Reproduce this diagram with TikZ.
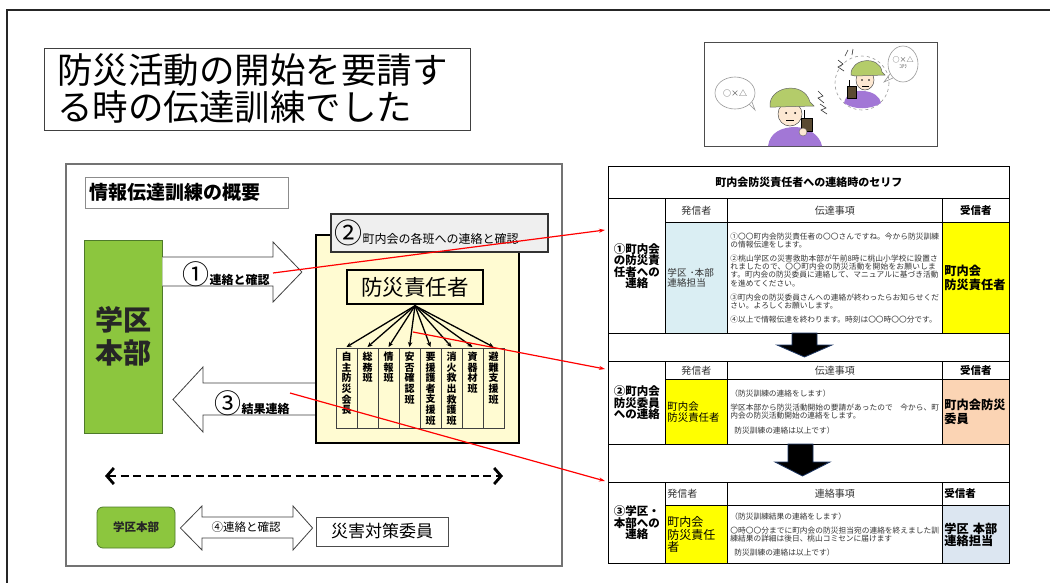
\documentclass[tikz,border=0pt]{standalone}
\usepackage{fontspec}
\usepackage{xcolor}
\usetikzlibrary{arrows.meta,positioning,calc}
\setmainfont{Noto Sans CJK JP}
\XeTeXlinebreaklocale "ja"
\XeTeXlinebreakskip=0pt plus 1pt
\newcommand\fsz[2]{\fontsize{#1}{#2}\selectfont}
% one character per line for the narrow group columns
\def\vtext#1{\vtextfirst#1\relax}
\def\vtextfirst#1{#1\vtextrest}
\def\vtextrest#1{\ifx#1\relax\else\\#1\expandafter\vtextrest\fi}
\definecolor{HqGreen}{HTML}{8CC63E}
\definecolor{HqEdge}{HTML}{4E7A2A}
\definecolor{HubYellow}{HTML}{FFFBD2}
\definecolor{CapGray}{HTML}{EFEFEF}
\definecolor{CellBlue}{HTML}{DAEEF3}
\definecolor{CellYellow}{HTML}{FFFF00}
\definecolor{CellPeach}{HTML}{FBD4B4}
\definecolor{CellSlate}{HTML}{DCE6F1}
\definecolor{ArrowNavy}{HTML}{1F3864}
\definecolor{HelmetGreen}{HTML}{B4CC6A}
\definecolor{ShirtPurple}{HTML}{A277D6}
\definecolor{SkinTone}{HTML}{FDE8D2}
\definecolor{RadioBrown}{HTML}{5A4A32}
\definecolor{InkGray}{HTML}{333333}
\tikzset{
  panelbox/.style={draw=black!55, line width=1.2pt, inner sep=0pt},
  titlebox/.style={draw=black!75, line width=0.8pt, fill=white, align=left, inner sep=0pt},
  hqbox/.style={draw=HqEdge, line width=0.8pt, fill=HqGreen, align=center, inner sep=0pt, text=black!85},
  hubbox/.style={draw=black, line width=2.2pt, fill=HubYellow, inner sep=0pt},
  capbox/.style={draw=black!80, line width=1.6pt, fill=CapGray, align=left, inner sep=0pt},
  leadbox/.style={draw=black, line width=1.4pt, fill=HubYellow, inner sep=0pt},
  colbox/.style={draw=black!75, line width=0.8pt, fill=HubYellow, anchor=north, inner sep=0pt, minimum width=21, minimum height=80},
  blockarrow/.style={draw=black!75, line width=0.8pt, fill=white, line join=miter},
  fanarrow/.style={-{Stealth[length=5pt,width=4.5pt]}, line width=1.3pt},
  dasharrow/.style={{Straight Barb[length=7pt,width=16pt]}-{Straight Barb[length=7pt,width=16pt]}, line width=2.8pt, dash pattern=on 8pt off 4.5pt},
  redline/.style={-{Stealth[length=6pt,width=4pt]}, draw=red, line width=1.2pt},
  tcell/.style={draw=black, line width=0.9pt, anchor=north west, inner sep=2pt, align=center},
  msgcell/.style={tcell, align=left, text width=209, text=InkGray, font=\fsz{7.7}{8.2}},
  dnarrow/.style={fill=black, draw=ArrowNavy, line width=0.8pt, line join=miter}
}

\begin{document}
\begin{tikzpicture}[x=1pt, y=-1pt]
\useasboundingbox (0,0) rectangle (1050,582);
\clip (0,0) rectangle (1050,582);
\fill[white] (0,0) rectangle (1050,582);

% outer frame, running off the page on the right and bottom
\draw[line width=1.5pt, black!85] (7,700) -- (7,10) -- (1100,10);

\node[titlebox, minimum width=426, minimum height=82, text width=400,
      font=\fsz{35.5}{37}] (title) at (257,89)
    {防災活動の開始を要請す\\る時の伝達訓練でした};

% ---- sketch: two wardens talking over radios ----
\node[draw=black!70, line width=0.8pt, minimum width=233, minimum height=104] (sketch) at (820.5,94) {};
\draw[gray!80, line width=0.6pt] (735,93) ellipse [x radius=20, y radius=16];
\draw[gray!80, line width=0.6pt] (749,104) -- (755,110) -- (752,102);
\node[font=\fsz{8}{8}, text=black!70] (talkL) at (735,93) {○×△};
% left warden
\fill[ShirtPurple] (768,146) .. controls (770,132) and (782,127) .. (796,127)
    .. controls (810,128) and (820,136) .. (822,146) -- cycle;
\filldraw[draw=black!70, fill=SkinTone, line width=0.5pt] (790,114) ellipse [x radius=12, y radius=12];
\filldraw[draw=black!60, fill=HelmetGreen, line width=0.5pt]
    (770,107) .. controls (768,86) and (804,80) .. (810,102) -- (814,106) -- (776,107) -- cycle;
\fill (786,113) circle [radius=1];
\fill (795,113) circle [radius=1];
\draw[line width=0.6pt] (786,120) -- (794,120);
\filldraw[draw=black, fill=RadioBrown, line width=0.5pt] (801,118) rectangle (812,131);
\draw[line width=0.6pt] (804,118) -- (804,110);
\filldraw[draw=black!60, fill=SkinTone, line width=0.4pt] (803,132) circle [radius=4];
\draw[black!80, line width=0.6pt] (818,91) -- (823,96) -- (818,98) -- (824,103)
    (820,104) -- (826,108) -- (821,110) -- (827,114);
% right warden inside the dashed circle
\draw[gray!80, dashed, line width=0.6pt] (862,83) circle [radius=27];
\fill[ShirtPurple] (844,103) .. controls (846,93) and (856,90) .. (864,91)
    .. controls (874,92) and (880,97) .. (881,103) .. controls (870,110) and (854,110) .. (844,103) -- cycle;
\filldraw[draw=black!70, fill=SkinTone, line width=0.5pt] (865,80) ellipse [x radius=9, y radius=10];
\filldraw[draw=black!60, fill=HelmetGreen, line width=0.5pt]
    (851,75) .. controls (850,58) and (880,55) .. (882,72) -- (885,75) -- (855,76) -- cycle;
\fill (862,80) circle [radius=0.8];
\fill (869,80) circle [radius=0.8];
\draw[line width=0.5pt] (862,86) -- (869,86);
\filldraw[draw=black, fill=RadioBrown, line width=0.5pt] (847,86) rectangle (856,98);
\draw[line width=0.6pt] (849,86) -- (849,80);
\draw[black!80, line width=0.6pt] (838,60) -- (843,64) -- (838,67) -- (844,71)
    (845,56) -- (848,50) (852,55) -- (853,49);
\draw[gray!80, line width=0.6pt] (903,64) ellipse [x radius=15, y radius=18];
\draw[gray!80, line width=0.6pt] (890,74) -- (884,82) -- (893,78);
\node[font=\fsz{7}{7}, text=black!70, align=center] (talkR) at (903,63) {○×△\\[-1pt]{\fsz{5}{5}ｺﾁﾗ}};

% ---- left panel: outline of the relay drill ----
\node[panelbox, minimum width=496, minimum height=402] (panel) at (314,365) {};
\node[draw=black!45, line width=0.8pt, minimum width=203, minimum height=31, text width=194,
      align=left, inner sep=0pt, font=\bfseries\fsz{19}{19}] (overview) at (186.5,192.5)
    {情報伝達訓練の概要};

\node[hqbox, minimum width=78, minimum height=193, font=\bfseries\fsz{28}{33}] (hq) at (123,336.5)
    {学区\\本部};
\node[hubbox, minimum width=203, minimum height=208] (hub) at (417.5,339) {};
\node[capbox, minimum width=217, minimum height=38, text width=210] (cap) at (439.5,233)
    {{\fsz{28}{28}②}{\fsz{12}{12}町内会の各班への連絡と確認}};
\node[leadbox, minimum width=136, minimum height=34, font=\fsz{21.5}{21.5}] (lead) at (415,287)
    {防災責任者};

% group columns under the leader
\foreach \grp [count=\i] in {自主防災会長, 総務班, 情報班, 安否確認班, 要援護者支援班,
                             消火救出救護班, 資器材班, 避難支援班} {
  \node[colbox] (col\i) at ({346.5+21*(\i-1)},348) {};
  \node[anchor=north, inner sep=0pt, align=center, font=\bfseries\fsz{10}{10.6}]
      (grp\i) at ($(col\i.north)+(0,4)$) {\expandafter\vtext\expandafter{\grp}};
  \draw[fanarrow] ($(lead.south)+(0,1)$) -- ($(col\i.north)+(0,-1)$);
}

% (1) report out to the leader
\coordinate (a1tip) at ($(hub.west)+(-13,-67)$);
\draw[blockarrow] (hq.east |- 0,257) -- (273,257) -- (273,242) -- (a1tip) -- (273,302) -- (273,286)
    -- (hq.east |- 0,286);
\node[inner sep=0pt, font=\bfseries\fsz{12}{12}] (lab1) at (226,274)
    {{\fsz{27}{27}\mdseries ①}連絡と確認};

% (3) result back to the HQ
\draw[blockarrow] (hub.west |- 0,383) -- (203,383) -- (203,367) -- (173,399.5)
    -- (203,432) -- (203,415) -- (hub.west |- 0,415);
\node[inner sep=0pt, font=\bfseries\fsz{12}{12}] (lab3) at (252,403)
    {{\fsz{27}{27}\mdseries ③}結果連絡};

\coordinate (dashL) at (105,476);
\coordinate (dashR) at (503,476);
\draw[dasharrow] (dashL) -- (dashR);

% (4) HQ and disaster committee
\node[hqbox, rounded corners=6pt, minimum width=78, minimum height=41,
      font=\bfseries\fsz{11.5}{11.5}] (hqsmall) at (136,527.5) {学区本部};
\node[draw=black!70, line width=0.8pt, minimum width=132, minimum height=29,
      inner sep=0pt, font=\fsz{17}{17}] (cmte) at (382,531.5) {災害対策委員};
\coordinate (a4l) at ($(hqsmall.east)+(5,0.5)$);
\coordinate (a4r) at ($(cmte.west)+(-3,-3.5)$);
\draw[blockarrow] (a4l) -- (202,506) -- (202,517) -- (293,517) -- (293,506) -- (a4r)
    -- (293,550) -- (293,538) -- (202,538) -- (202,550) -- cycle;
\node[inner sep=0pt, font=\fsz{11.5}{11.5}] (lab4) at (246,527.5) {④連絡と確認};

% ---- right: script table for each call ----
\node[tcell, minimum width=401, minimum height=32, font=\bfseries\fsz{11}{11}] (ttl) at (608,166)
    {町内会防災責任者への連絡時のセリフ};

% call 1
\node[tcell, minimum width=57, minimum height=135, font=\bfseries\fsz{11.5}{11.5}] (s1lab) at (608,198)
    {①町内会\\の防災責\\任者への\\連絡};
\node[tcell, minimum width=62, minimum height=24, font=\fsz{10}{10}, text=InkGray] (s1h1) at (665,198) {発信者};
\node[tcell, minimum width=215, minimum height=24, font=\fsz{10}{10}, text=InkGray] (s1h2) at (727,198) {伝達事項};
\node[tcell, minimum width=67, minimum height=24, font=\bfseries\fsz{10.5}{10.5}] (s1h3) at (942,198) {受信者};
\node[tcell, fill=CellBlue, minimum width=62, minimum height=111, align=left, text width=58,
      inner xsep=1.5pt, font=\fsz{9.6}{10.6}, text=InkGray] (s1snd) at (665,222) {学区 ･本部\\連絡担当};
\node[msgcell, minimum width=215, minimum height=111] (s1msg) at (727,222)
    {①〇〇町内会防災責任者の〇〇さんですね。今から防災訓練の情報伝達をします。\\[6pt]
     ②桃山学区の災害救助本部が午前8時に桃山小学校に設置されましたので、〇〇町内会の防災活動を開始をお願いします。町内会の防災委員に連絡して、マニュアルに基づき活動を進めてください。\\[6pt]
     ③町内会の防災委員さんへの連絡が終わったらお知らせください。よろしくお願いします。\\[6pt]
     ④以上で情報伝達を終わります。時刻は〇〇時〇〇分です。};
\node[tcell, fill=CellYellow, minimum width=67, minimum height=111, align=left, text width=63,
      inner xsep=1.5pt, font=\bfseries\fsz{12.2}{13.2}] (s1rcv) at (942,222) {町内会\\防災責任者};

\node[tcell, minimum width=401, minimum height=28] (gap1) at (608,333) {};
\draw[dnarrow] (792,333) -- (817,333) -- (817,345) -- (832,345) -- (804.5,357)
    -- (777,345) -- (792,345) -- cycle;

% call 2
\node[tcell, minimum width=57, minimum height=83, font=\bfseries\fsz{11.5}{11.5}] (s2lab) at (608,361)
    {②町内会\\防災委員\\への連絡};
\node[tcell, minimum width=62, minimum height=18, font=\fsz{10}{10}, text=InkGray] (s2h1) at (665,361) {発信者};
\node[tcell, minimum width=215, minimum height=18, font=\fsz{10}{10}, text=InkGray] (s2h2) at (727,361) {伝達事項};
\node[tcell, minimum width=67, minimum height=18, font=\bfseries\fsz{10.5}{10.5}] (s2h3) at (942,361) {受信者};
\node[tcell, fill=CellYellow, minimum width=62, minimum height=65, align=left, text width=58,
      inner xsep=1.5pt, font=\fsz{10.4}{11}] (s2snd) at (665,379) {町内会\\防災責任者};
\node[msgcell, minimum width=215, minimum height=65] (s2msg) at (727,379)
    {（防災訓練の連絡をします）\\[6pt]
     学区本部から防災活動開始の要請があったので　今から、町内会の防災活動開始の連絡をします。\\[6pt]
     \hspace*{4pt}防災訓練の連絡は以上です）};
\node[tcell, fill=CellPeach, minimum width=67, minimum height=65, align=left, text width=63,
      inner xsep=1.5pt, font=\bfseries\fsz{12.2}{13.2}] (s2rcv) at (942,379) {町内会防災\\委員};

\node[tcell, minimum width=401, minimum height=38] (gap2) at (608,444) {};
\draw[dnarrow] (788,444) -- (813,444) -- (813,462) -- (830,462) -- (802.5,476)
    -- (775,462) -- (788,462) -- cycle;

% call 3
\node[tcell, minimum width=57, minimum height=81, font=\bfseries\fsz{11.5}{11.5}] (s3lab) at (608,482)
    {③学区・\\本部への\\連絡};
\node[tcell, minimum width=62, minimum height=23, font=\fsz{10}{10}, text=InkGray, align=left,
      text width=58, inner xsep=1.5pt] (s3h1) at (665,482) {発信者};
\node[tcell, minimum width=215, minimum height=23, font=\fsz{10}{10}, text=InkGray] (s3h2) at (727,482) {連絡事項};
\node[tcell, minimum width=67, minimum height=23, font=\bfseries\fsz{10.5}{10.5}, align=left,
      text width=63, inner xsep=1.5pt] (s3h3) at (942,482) {受信者};
\node[tcell, fill=CellYellow, minimum width=62, minimum height=58, align=left, text width=58,
      inner xsep=1.5pt, font=\fsz{12}{12.2}] (s3snd) at (665,505) {町内会\\防災責任\\者};
\node[msgcell, minimum width=215, minimum height=58] (s3msg) at (727,505)
    {（防災訓練結果の連絡をします）\\[6pt]
     〇時〇〇分までに町内会の防災担当宛の連絡を終えました訓練結果の詳細は後日、桃山コミセンに届けます\\[6pt]
     \hspace*{4pt}防災訓練の連絡は以上です）};
\node[tcell, fill=CellSlate, minimum width=67, minimum height=58, align=left, text width=63,
      inner xsep=1.5pt, font=\bfseries\fsz{12.2}{12.2}] (s3rcv) at (942,505) {学区 本部\\連絡担当};

% red pointers from the outline to the matching script rows
\coordinate (p1) at (273,273);
\coordinate (p2) at (413,332);
\coordinate (p3) at (290,393);
\coordinate (q1) at (605,230);
\coordinate (q2) at (605,369);
\coordinate (q3) at (605,481);
\draw[redline] (p1) -- (q1);
\draw[redline] (p2) -- (q2);
\draw[redline] (p3) -- (q3);
\end{tikzpicture}
\end{document}
